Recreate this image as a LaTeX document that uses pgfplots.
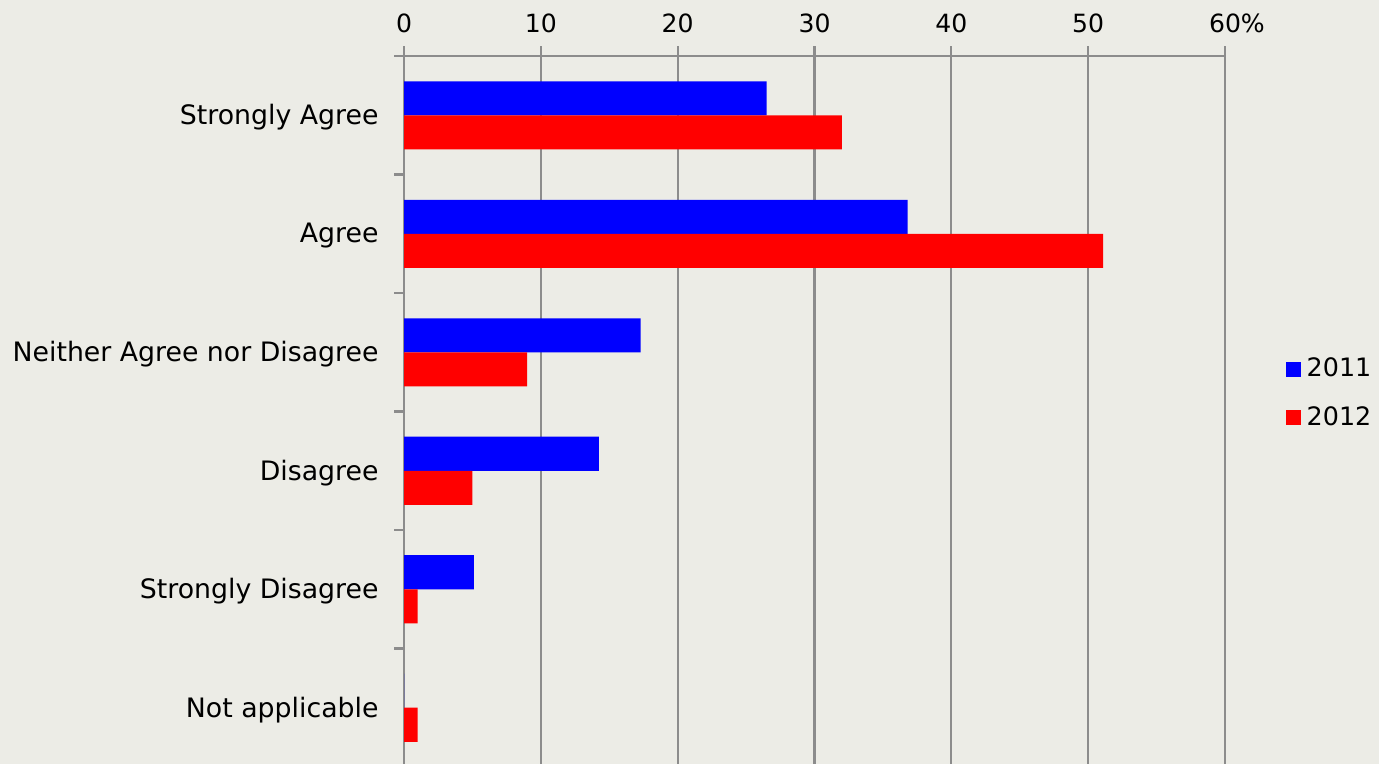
\documentclass[border=0pt]{standalone}
\usepackage{pgfplots}
\pgfplotsset{compat=1.18}
\usepackage{fontspec}
\setmainfont{DejaVu Sans}
\usetikzlibrary{backgrounds}
\definecolor{bg}{HTML}{ECECE6}
\definecolor{gridc}{HTML}{8C8C8C}
\definecolor{b11}{HTML}{0000FF}
\definecolor{r12}{HTML}{FF0000}
\begin{document}
\begin{tikzpicture}[show background rectangle, inner frame sep=0pt,
  background rectangle/.style={fill=bg, draw=none}]
\begin{axis}[name=ax, scale only axis, width=297.7pt, height=257.8pt,
  xmin=0, xmax=60, ymin=-0.5, ymax=5.5, y dir=reverse,
  axis x line*=top, axis y line*=left,
  axis line style={gridc, line width=0.75pt},
  xtick={0,10,...,60}, xticklabels={0,10,20,30,40,50,60\rlap{\%}},
  ytick={-0.5,0.5,1.5,2.5,3.5,4.5},
  yticklabels={Strongly Agree,Agree,Neither Agree nor Disagree,Disagree,Strongly Disagree,Not applicable},
  yticklabel style={yshift=-22.2pt, xshift=-2.2pt, font=\fontsize{9.7}{11}\selectfont},
  xticklabel style={yshift=1.5pt, font=\fontsize{9.1}{11}\selectfont},
  xmajorgrids, grid style={gridc, line width=0.75pt},
  tick style={gridc, line width=0.75pt},
  tick align=outside, major tick length=3.5pt,
  /pgf/number format/assume math mode=true,
  tick label style={black},
  xbar, bar width=0.287,
  legend style={at={(1.074,0.525)}, anchor=west, draw=none, fill=none,
    font=\fontsize{9.2}{11}\selectfont, row sep=5.2pt, inner sep=0pt},
  legend cell align=left,
]
\addplot[fill=b11, draw=none, bar shift=-0.1435,
  legend image code/.code={\fill[b11] (0pt,-2.7pt) rectangle (5.4pt,2.7pt);}]
  coordinates {(26.5,0) (36.8,1) (17.3,2) (14.25,3) (5.1,4) (0,5)};
\addplot[fill=r12, draw=none, bar shift=0.1435,
  legend image code/.code={\fill[r12] (0pt,-2.7pt) rectangle (5.4pt,2.7pt);}]
  coordinates {(32.0,0) (51.1,1) (9.0,2) (5.0,3) (1.0,4) (1.0,5)};
\legend{2011,2012}
\end{axis}
\pgfresetboundingbox
\path ([shift={(-146.49pt,1.09pt)}]ax.south west) rectangle ([shift={(55.84pt,20.31pt)}]ax.north east);
\end{tikzpicture}
\end{document}
